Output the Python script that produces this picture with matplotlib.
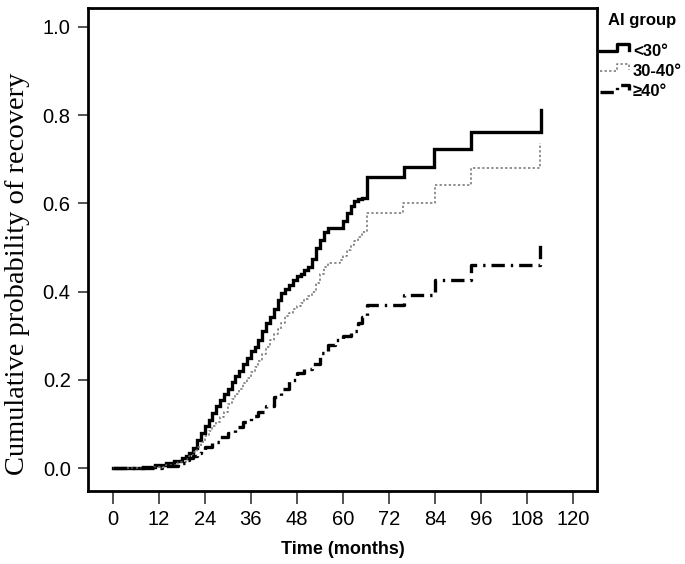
import matplotlib
matplotlib.use("Agg")
import matplotlib.pyplot as plt
from matplotlib.lines import Line2D

# cumulative probability of recovery (step points)
t_lt30 = [0, 8, 11, 14, 16, 18, 19, 20, 21, 22, 23, 24, 25, 26, 27, 28, 29, 30, 31, 32,
          33, 34, 35, 36, 37, 38, 39, 40, 41, 42, 43, 44, 45, 46, 47, 48, 49, 50, 51, 52,
          53, 54, 55, 56, 60, 61, 62, 63, 64, 65, 66.2, 75.8, 83.8, 93.3, 111.5, 111.5]
p_lt30 = [0, 0.003, 0.006, 0.011, 0.015, 0.022, 0.028, 0.034, 0.045, 0.063, 0.079, 0.095,
          0.11, 0.125, 0.14, 0.154, 0.167, 0.18, 0.195, 0.208, 0.22, 0.235, 0.25, 0.265,
          0.275, 0.29, 0.31, 0.33, 0.343, 0.36, 0.381, 0.397, 0.405, 0.415, 0.426, 0.435,
          0.44, 0.448, 0.456, 0.475, 0.5, 0.517, 0.535, 0.544, 0.56, 0.578, 0.593, 0.605,
          0.61, 0.613, 0.659, 0.683, 0.723, 0.761, 0.761, 0.812]

t_3040 = [0, 10, 14, 17, 19, 20, 21, 22, 23, 24, 25, 26, 27, 28, 29, 30, 31, 32, 33, 34,
          35, 36, 37, 38, 39, 40, 41, 42, 43, 44, 45, 46, 47, 48, 49, 50, 51, 52, 53, 54,
          55, 56, 59.3, 60, 61, 62, 63, 64, 65, 66.3, 75.6, 83.9, 93.4, 111.4, 111.4]
p_3040 = [0, 0.003, 0.008, 0.014, 0.02, 0.028, 0.036, 0.048, 0.06, 0.072, 0.085, 0.095,
          0.105, 0.115, 0.128, 0.145, 0.157, 0.168, 0.18, 0.192, 0.205, 0.218, 0.23, 0.242,
          0.258, 0.275, 0.29, 0.303, 0.315, 0.33, 0.345, 0.351, 0.36, 0.368, 0.375, 0.383,
          0.39, 0.4, 0.42, 0.44, 0.455, 0.465, 0.472, 0.48, 0.495, 0.505, 0.515, 0.524,
          0.536, 0.578, 0.602, 0.641, 0.680, 0.680, 0.738]

t_ge40 = [0, 13, 17, 19, 20, 21, 22, 23, 24, 26, 28, 30, 32, 34, 36, 38, 40, 42, 44, 46,
          48, 50, 52, 54, 56, 58, 60, 62, 64, 65, 66.2, 75.8, 84, 93.4, 111.4, 111.4]
p_ge40 = [0, 0.005, 0.012, 0.018, 0.022, 0.028, 0.035, 0.041, 0.047, 0.06, 0.07, 0.08,
          0.092, 0.105, 0.118, 0.128, 0.14, 0.16, 0.18, 0.2, 0.215, 0.225, 0.235, 0.26,
          0.28, 0.29, 0.3, 0.31, 0.33, 0.343, 0.370, 0.392, 0.426, 0.46, 0.46, 0.51]

groups = ["<30°", "30-40°", "≥40°"]
xticks = list(range(0, 121, 12))
yticks = [0.0, 0.2, 0.4, 0.6, 0.8, 1.0]

W, H = 685, 564
fig = plt.figure(figsize=(W / 100, H / 100), dpi=100)
ax = fig.add_axes([88 / W, 1 - 491 / H, (597 - 88) / W, (491 - 8) / H])

dashdot = (4.0, 1.8, 0.7, 1.8)
ax.step(t_lt30, p_lt30, where="post", color="black", lw=2.4, solid_joinstyle="miter")
ax.step(t_3040, p_3040, where="post", color="#707070", lw=1.1, linestyle=(0, (1.5, 1.5)))
ax.step(t_ge40, p_ge40, where="post", color="black", lw=2.4, linestyle=(0, dashdot))

ax.set_xlim(-6.4, 126.2)
ax.set_ylim(-0.052, 1.043)
ax.set_xticks(xticks)
ax.set_yticks(yticks)
ax.set_yticklabels(["%.1f" % v for v in yticks])
for s in ax.spines.values():
    s.set_linewidth(2.0)
ax.tick_params(axis="x", length=9, width=1.3, color="#444444", pad=5, labelsize=14.5)
ax.tick_params(axis="y", length=7.5, width=1.3, color="#444444", pad=5, labelsize=14.5)
for lab in ax.get_xticklabels() + ax.get_yticklabels():
    lab.set_family("Liberation Sans")

ax.set_xlabel("Time (months)", family="Liberation Sans", fontweight="bold", fontsize=13,
              labelpad=8)
fig.text(18 / W, 1 - 274 / H, "Cumulative probability of recovery", family="Liberation Serif",
         fontsize=20.5, rotation=90, ha="center", va="center")


# legend drawn outside the axes, in figure pixels
def fx(x):
    return x / W


def fy(y):
    return 1 - y / H


fig.text(fx(608), fy(21), "AI group", family="Liberation Sans", fontweight="bold",
         fontsize=12, ha="left", va="center")
rows = [51, 71, 92]
styles = [dict(color="black", lw=2.4),
          dict(color="#707070", lw=1.1, linestyle=(0, (1.5, 1.5))),
          dict(color="black", lw=2.4, linestyle=(0, dashdot))]
for lab, yy, st in zip(groups, rows, styles):
    xs = [600, 617, 617, 629, 629]
    ys = [yy, yy, yy - 7, yy - 7, yy - 1]
    fig.add_artist(Line2D([fx(v) for v in xs], [fy(v) for v in ys], **st))
    fig.text(fx(633), fy(yy), lab, family="Liberation Sans", fontweight="bold",
             fontsize=12, ha="left", va="center")

fig.savefig("out.png", dpi=100)
